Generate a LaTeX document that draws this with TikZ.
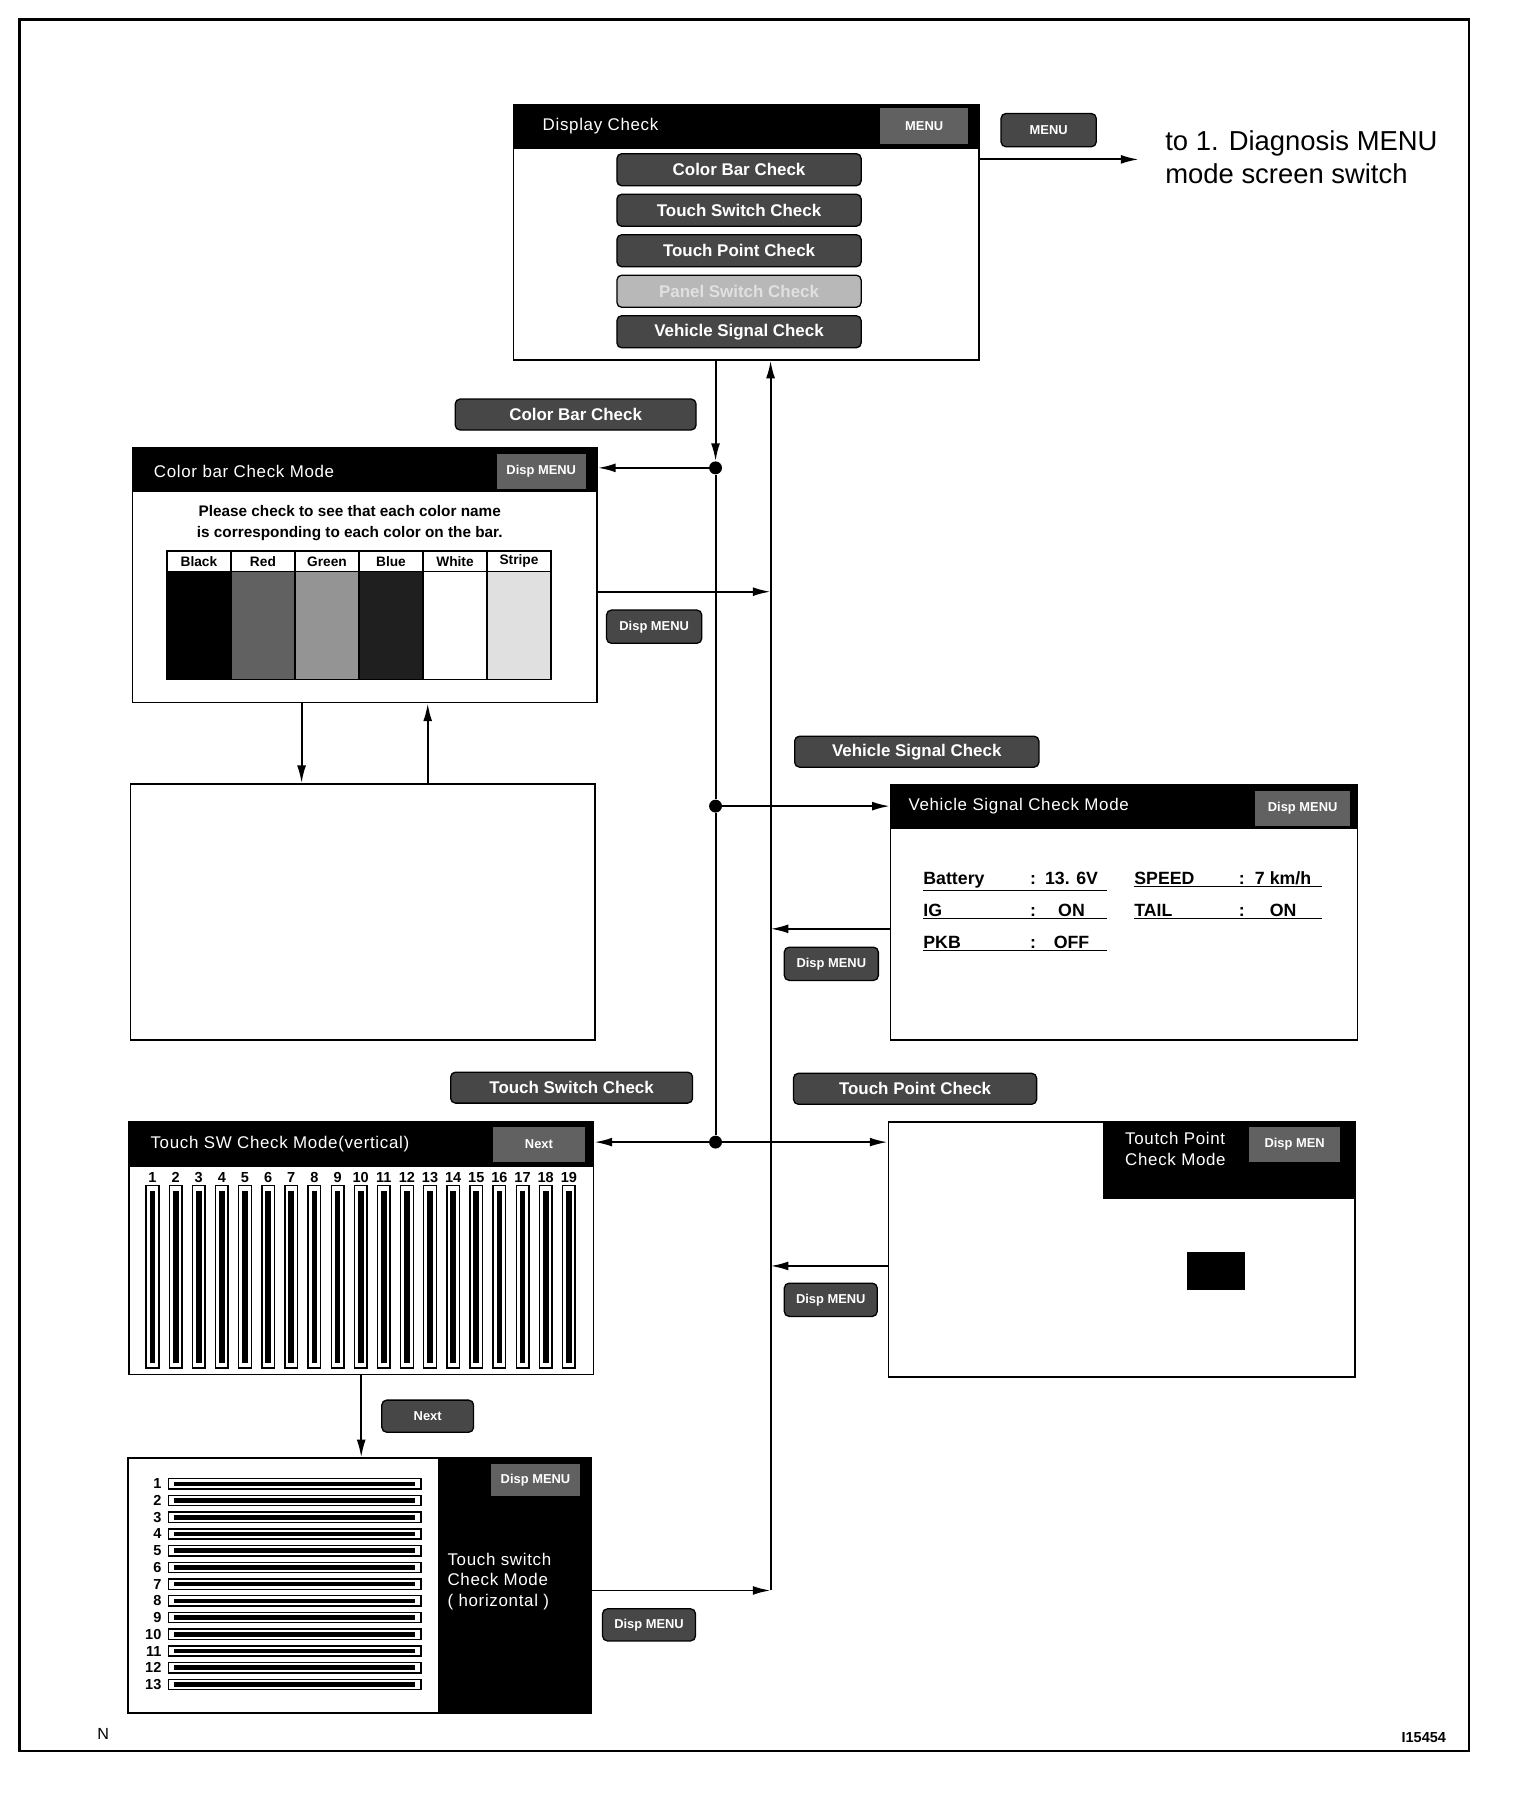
\documentclass[tikz,border=0pt]{standalone}
\usepackage{fontspec}
\setmainfont{Liberation Sans}
\newfontfamily\thinsans[LetterSpace=4]{Liberation Sans}
\usepackage{tikz}
\usetikzlibrary{arrows.meta, positioning, calc}

\newcommand{\gu}{0.025cm}
\newcommand{\titlefont}{\thinsans\fontsize{10.5}{12.8}\selectfont}
\newcommand{\btnfont}{\bfseries\fontsize{10.5}{12}\selectfont}
\newcommand{\tagfont}{\bfseries\fontsize{8}{9}\selectfont}
\newcommand{\vrow}[4]{\underline{\makebox[#3][l]{#1}:\makebox[#4][c]{#2}}}

\tikzset{
  %% Screen outline
  screen/.style={
    rectangle, draw=black, fill=white, line width=1pt,
    anchor=north west, inner sep=0pt,
    minimum width=#1*\gu, minimum height=222*\gu
  },
  screen/.default=406,
  %% Black title bar
  tbar/.style={
    rectangle, fill=black, anchor=north west, inner sep=0pt,
    minimum width=#1*\gu, minimum height=39*\gu
  },
  %% Title text on a bar
  ttext/.style={anchor=west, text=white, font=\titlefont, inner sep=0pt},
  %% Halftone key on a bar
  patch/.style={
    rectangle, fill=black!62, text=white, font=\tagfont,
    minimum width=#1*\gu, minimum height=31*\gu, inner sep=0pt
  },
  patch/.default=78,
  %% Grey push button
  gbtn/.style={
    rectangle, rounded corners=3pt,
    draw=black, fill=black!72, line width=0.8pt,
    text=white, font=\btnfont, inner sep=0pt,
    minimum width=#1*\gu, minimum height=28*\gu
  },
  gbtn/.default=211,
  %% Small key button
  kbtn/.style={gbtn=82, font=\tagfont, minimum height=29*\gu},
  %% Colour bar cells
  hcell/.style={
    rectangle, draw=black, fill=white, line width=0.8pt,
    anchor=north west, inner sep=0pt, font=\bfseries\fontsize{8.5}{9}\selectfont,
    minimum width=55.83*\gu, minimum height=18*\gu
  },
  bcell/.style={
    rectangle, draw=black, line width=0.8pt,
    anchor=north west, inner sep=0pt,
    minimum width=55.83*\gu, minimum height=94*\gu
  },
  %% Touch switch bars
  vbar/.style={rectangle, draw=black, fill=white, line width=0.9pt,
    inner sep=0pt, minimum width=11*\gu, minimum height=159*\gu},
  vbarin/.style={rectangle, fill=black, inner sep=0pt,
    minimum width=5*\gu, minimum height=150*\gu},
  hbar/.style={rectangle, draw=black, fill=white, line width=0.9pt,
    inner sep=0pt, minimum width=220*\gu, minimum height=9*\gu},
  hbarin/.style={rectangle, fill=black, inner sep=0pt,
    minimum width=210*\gu, minimum height=4*\gu},
  num/.style={inner sep=0pt, font=\bfseries\fontsize{9}{10}\selectfont},
  vtext/.style={anchor=base west, inner sep=0pt,
    font=\bfseries\fontsize{11}{12}\selectfont},
  %% Connectors
  wire/.style={draw=black, line width=1.2pt},
  arr/.style={-{Latex[length=11pt,width=5.5pt]}, draw=black, line width=1.2pt},
  jdot/.style={circle, fill=black, inner sep=0pt, minimum size=8pt},
}

\begin{document}
\begin{tikzpicture}[x=\gu, y=-\gu]

  \useasboundingbox (0,0) rectangle (1326,1568);
  \draw[line width=1.5pt] (17,17) rectangle (1281,1527);

  %% Display check screen
  \node[screen] (disp) at (447,91) {};
  \node[tbar=406] (dispbar) at (disp.north west) {};
  \node[ttext] (dispttl) at (473,110) {Display Check};
  \node[patch=77] (dispkey) at (806,110) {MENU};
  \node[gbtn=213] (bcb) at (644.5,148) {Color Bar Check};
  \node[gbtn=213, below=0.155cm of bcb] (bts) {Touch Switch Check};
  \node[gbtn=213, below=0.155cm of bts] (btp) {Touch Point Check};
  \node[gbtn=213, fill=black!28, text=black!12, below=0.155cm of btp] (bps)
    {Panel Switch Check};
  \node[gbtn=213, below=0.155cm of bps] (bvs) {Vehicle Signal Check};

  %% Menu exit
  \node[kbtn, minimum width=83*\gu] (menubtn) at (914.5,113.5) {MENU};
  \coordinate (mout) at (993,139);
  \draw[arr] (mout -| disp.east) -- (mout);
  \node[anchor=west, align=left, inner sep=0pt,
        font=\fontsize{17}{20}\selectfont] (diag) at (1016,137)
    {to 1. Diagnosis MENU\\mode screen switch};

  %% Colour bar screen
  \node[gbtn=210, minimum height=27*\gu] (lblcb) at (502,361.5) {Color Bar Check};
  \node[screen=405] (cbar) at (115,390) {};
  \node[tbar=405] (cbarbar) at (cbar.north west) {};
  \node[ttext] (cbarttl) at (134,411) {Color bar Check Mode};
  \node[patch] (cbarkey) at (472,411) {Disp MENU};
  \node[align=center, inner sep=0pt,
        font=\bfseries\fontsize{9.5}{12.8}\selectfont] (cbarmsg) at (305,456)
    {Please check to see that each color name\\
     is corresponding to each color on the bar.};
  \foreach \nm/\col [count=\k from 0] in
      {Black/black, Red/black!62, Green/black!42, Blue/black!88,
       White/white, Stripe/black!12}{
    \node[hcell] (hd\k) at ({145+\k*55.83},480) {\nm};
    \node[bcell, fill=\col] (cb\k) at ({145+\k*55.83},498) {};
  }
  \node[kbtn, minimum width=83*\gu] (lbldm1) at (570.5,546.5) {Disp MENU};

  %% Blank screen
  \node[screen=405, minimum height=223*\gu] (blank) at (113,683) {};
  \draw[arr] ([xshift=148*\gu]cbar.south west) -- ([xshift=150*\gu]blank.north west);
  \draw[arr] ([xshift=260*\gu]blank.north west) -- ([xshift=258*\gu]cbar.south west);

  %% Vehicle signal screen
  \node[gbtn=213, minimum height=27*\gu] (lblvs) at (799.5,655.5) {Vehicle Signal Check};
  \node[screen=407] (veh) at (776,684) {};
  \node[tbar=407] (vehbar) at (veh.north west) {};
  \node[ttext] (vehttl) at (792,703) {Vehicle Signal Check Mode};
  \node[patch=83] (vehkey) at (1136,705) {Disp MENU};
  \node[vtext] (vbat) at (805,771) {\vrow{Battery}{13. 6V}{2.325cm}{1.55cm}};
  \node[vtext] (vig)  at (805,799) {\vrow{IG}{ON}{2.325cm}{1.55cm}};
  \node[vtext] (vpkb) at (805,827) {\vrow{PKB}{OFF}{2.325cm}{1.55cm}};
  \node[vtext] (vspd) at (989,771) {\vrow{SPEED}{7 km/h}{2.275cm}{1.675cm}};
  \node[vtext] (vtail) at (989,799) {\vrow{TAIL}{ON}{2.275cm}{1.675cm}};
  \node[kbtn] (lbldm2) at (725,840.5) {Disp MENU};

  %% Touch switch screens
  \node[gbtn, minimum height=27*\gu] (lblts) at (498.5,948.5) {Touch Switch Check};
  \node[screen=405, minimum height=220*\gu] (tsv) at (112,978) {};
  \node[tbar=405] (tsvbar) at (tsv.north west) {};
  \node[ttext] (tsvttl) at (131,998) {Touch SW Check Mode(vertical)};
  \node[patch=80] (tsvkey) at (470,998) {Next};
  \foreach \i in {1,...,19}{
    \pgfmathsetmacro{\xc}{133+(\i-1)*20.17}
    \node[num] (n\i) at (\xc,1027) {\i};
    \node[vbar] (vb\i) at (\xc,1113.5) {};
    \node[vbarin] (vi\i) at (vb\i) {};
  }
  \node[kbtn, minimum width=80*\gu, minimum height=28*\gu] (lblnx) at (373,1235) {Next};
  \node[screen=404] (tsh) at (111,1271) {};
  \node[tbar=133, minimum height=222*\gu] (tshside) at (382,1271) {};
  \node[patch, minimum height=28*\gu] (tshkey) at (467,1291) {Disp MENU};
  \node[anchor=north west, align=left, text=white, font=\titlefont,
        inner sep=0pt] (tshttl) at (390,1354)
    {Touch switch\\Check Mode\\( horizontal )};
  \foreach \i in {1,...,13}{
    \pgfmathsetmacro{\yc}{1294+(\i-1)*14.58}
    \node[num, anchor=east] (m\i) at (141,\yc) {\i};
    \node[hbar] (hb\i) at (257,\yc) {};
    \node[hbarin] (hi\i) at (hb\i) {};
  }
  \draw[arr] ([xshift=203*\gu]tsv.south west) -- ([xshift=204*\gu]tsh.north west);
  \node[kbtn, minimum width=81*\gu, minimum height=28*\gu] (lbldm4) at (566,1417) {Disp MENU};

  %% Touch point screen
  \node[gbtn=212, minimum height=27*\gu] (lbltp) at (798,949.5) {Touch Point Check};
  \node[screen=407] (tpt) at (774,978) {};
  \node[tbar=219, minimum height=67*\gu] (tptbar) at (962,978) {};
  \node[anchor=north west, align=left, text=white, font=\titlefont,
        inner sep=0pt] (tptttl) at (981,987)
    {Toutch Point\\Check Mode};
  \node[patch=80] (tptkey) at (1129,998) {Disp MEN};
  \node[rectangle, fill=black, inner sep=0pt, minimum width=51*\gu,
        minimum height=33*\gu] (tptmark) at (1060.5,1108.5) {};
  \node[kbtn, minimum width=81*\gu] (lbldm3) at (724.5,1133.5) {Disp MENU};

  %% Junctions on the down line
  \node[jdot] (j1) at (624,408) {};
  \node[jdot] (j2) at (624,703) {};
  \node[jdot] (j3) at (624,996) {};
  %% Return points on the up line
  \coordinate (r1) at (672,516);
  \coordinate (r2) at (672,810);
  \coordinate (r3) at (672,1104);
  \coordinate (r4) at (672,1387);

  \draw[arr] (disp.south -| j1) -- (j1);
  \draw[wire] (j1) -- (j2) -- (j3);
  \draw[arr] (j1) -- (j1 -| cbar.east);
  \draw[arr] (j2) -- (j2 -| veh.west);
  \draw[arr] (j3) -- (j3 -| tsv.east);
  \draw[arr] (j3) -- (j3 -| tpt.west);

  \draw[arr] (cbar.east |- r1) -- (r1);
  \draw[arr] (veh.west |- r2) -- (r2);
  \draw[arr] (tpt.west |- r3) -- (r3);
  \draw[arr] (tsh.east |- r4) -- (r4);
  \draw[arr] (r4) -- (r4 |- disp.south);

  %% Footer
  \node[font=\fontsize{10}{12}\selectfont] (fn) at (90,1512) {N};
  \node[anchor=east, font=\bfseries\fontsize{9}{11}\selectfont] (fid) at (1266,1515) {I15454};

\end{tikzpicture}
\end{document}
